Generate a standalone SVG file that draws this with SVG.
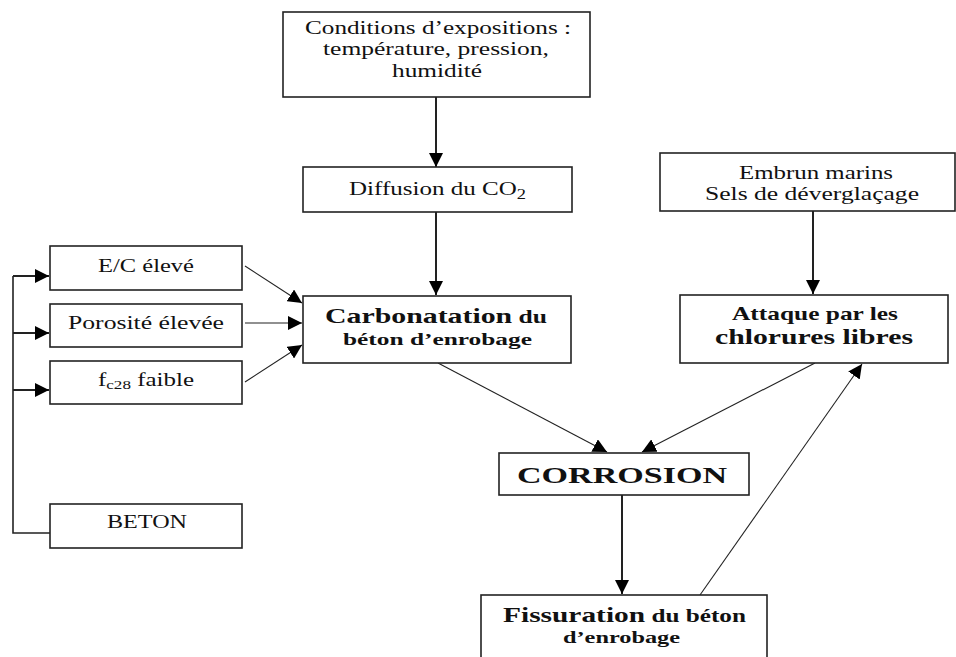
<svg xmlns="http://www.w3.org/2000/svg" width="956" height="657" viewBox="0 0 956 657">
<defs>
<marker id="ah" viewBox="0 0 10 10" refX="10" refY="5" markerWidth="14" markerHeight="14" markerUnits="userSpaceOnUse" orient="auto">
<path d="M0,0 L10,5 L0,10 z" fill="#000"/>
</marker>
</defs>
<style>
.box{fill:#fff;stroke:#222;stroke-width:1.6}
.t{font-family:"Liberation Serif","Times New Roman",serif;fill:#111}
.n{font-size:19px}
.b{font-weight:bold}
.c{stroke:#222;fill:none;marker-end:url(#ah)}
.thick{stroke-width:2}
.thin{stroke-width:1.1}
.plain{stroke:#222;fill:none;stroke-width:1.6}
</style>
<rect width="956" height="657" fill="#fff"/>
<g id="connectors">
<line class="c thick" x1="436" y1="97" x2="436" y2="167"/>
<line class="c thick" x1="436" y1="212" x2="436" y2="295"/>
<line class="c thick" x1="813" y1="211" x2="813" y2="294"/>
<line class="c thick" x1="622" y1="495" x2="622" y2="594"/>
<line class="c thin" x1="245" y1="266" x2="302" y2="303"/>
<line class="c thin" x1="245" y1="323" x2="302" y2="323"/>
<line class="c thin" x1="245" y1="382" x2="302" y2="345"/>
<line class="c thin" x1="438" y1="363" x2="607" y2="452"/>
<line class="c thin" x1="815" y1="363" x2="642" y2="452"/>
<line class="c thin" x1="700" y1="595" x2="862" y2="364"/>
<polyline class="plain" points="50,533 13,533 13,276"/>
<line class="c thick" x1="13" y1="276" x2="49" y2="276"/>
<line class="c thick" x1="13" y1="333" x2="49" y2="333"/>
<line class="c thick" x1="13" y1="390" x2="49" y2="390"/>
</g>
<g id="conditions">
<rect class="box" x="283" y="12" width="307" height="85"/>
<text class="t n" font-family="Liberation Serif, serif" x="305" y="34" textLength="266" lengthAdjust="spacingAndGlyphs">Conditions d’expositions :</text>
<text class="t n" font-family="Liberation Serif, serif" x="323" y="55" textLength="226" lengthAdjust="spacingAndGlyphs">température, pression,</text>
<text class="t n" font-family="Liberation Serif, serif" x="392" y="77" textLength="90" lengthAdjust="spacingAndGlyphs">humidité</text>
</g>
<g id="diffusion">
<rect class="box" x="303" y="167" width="269" height="45"/>
<text class="t n" font-family="Liberation Serif, serif" x="349" y="195" textLength="177" lengthAdjust="spacingAndGlyphs">Diffusion du CO<tspan font-size="14" dy="4">2</tspan></text>
</g>
<g id="carbonatation">
<rect class="box" x="303" y="296" width="268" height="67"/>
<text class="t b" font-family="Liberation Serif, serif" x="325" y="323" textLength="222" lengthAdjust="spacingAndGlyphs"><tspan font-size="21">Carbonatation</tspan><tspan font-size="18"> du</tspan></text>
<text class="t b" font-family="Liberation Serif, serif" x="343" y="345" font-size="17" textLength="189" lengthAdjust="spacingAndGlyphs">béton d’enrobage</text>
</g>
<g id="embrun">
<rect class="box" x="660" y="153" width="295" height="58"/>
<text class="t n" font-family="Liberation Serif, serif" x="739" y="179" textLength="154" lengthAdjust="spacingAndGlyphs">Embrun marins</text>
<text class="t n" font-family="Liberation Serif, serif" x="705" y="200" textLength="214" lengthAdjust="spacingAndGlyphs">Sels de déverglaçage</text>
</g>
<g id="attaque">
<rect class="box" x="680" y="295" width="268" height="68"/>
<text class="t b" font-family="Liberation Serif, serif" x="732" y="320" font-size="19" textLength="166" lengthAdjust="spacingAndGlyphs">Attaque par les</text>
<text class="t b" font-family="Liberation Serif, serif" x="715" y="344" font-size="21" textLength="198" lengthAdjust="spacingAndGlyphs">chlorures libres</text>
</g>
<g id="ec">
<rect class="box" x="50" y="246" width="192" height="44"/>
<text class="t n" font-family="Liberation Serif, serif" x="98" y="272" textLength="96" lengthAdjust="spacingAndGlyphs">E/C élevé</text>
</g>
<g id="porosite">
<rect class="box" x="50" y="304" width="192" height="43"/>
<text class="t n" font-family="Liberation Serif, serif" x="68" y="329" textLength="156" lengthAdjust="spacingAndGlyphs">Porosité élevée</text>
</g>
<g id="fc28">
<rect class="box" x="50" y="361" width="192" height="43"/>
<text class="t n" font-family="Liberation Serif, serif" x="98" y="386" textLength="96" lengthAdjust="spacingAndGlyphs">f<tspan font-size="13" dy="3">c28</tspan><tspan dy="-3"> faible</tspan></text>
</g>
<g id="beton">
<rect class="box" x="50" y="504" width="192" height="44"/>
<text class="t n" font-family="Liberation Serif, serif" x="107" y="528" textLength="80" lengthAdjust="spacingAndGlyphs">BETON</text>
</g>
<g id="corrosion">
<rect class="box" x="499" y="453" width="250" height="42"/>
<text class="t b" font-family="Liberation Serif, serif" x="517" y="483" font-size="24" textLength="210" lengthAdjust="spacingAndGlyphs">CORROSION</text>
</g>
<g id="fissuration">
<rect class="box" x="481" y="595" width="286" height="70"/>
<text class="t b" font-family="Liberation Serif, serif" x="503" y="622" textLength="243" lengthAdjust="spacingAndGlyphs"><tspan font-size="21">Fissuration</tspan><tspan font-size="18"> du béton</tspan></text>
<text class="t b" font-family="Liberation Serif, serif" x="563" y="643" font-size="17" textLength="117" lengthAdjust="spacingAndGlyphs">d’enrobage</text>
</g>
</svg>
